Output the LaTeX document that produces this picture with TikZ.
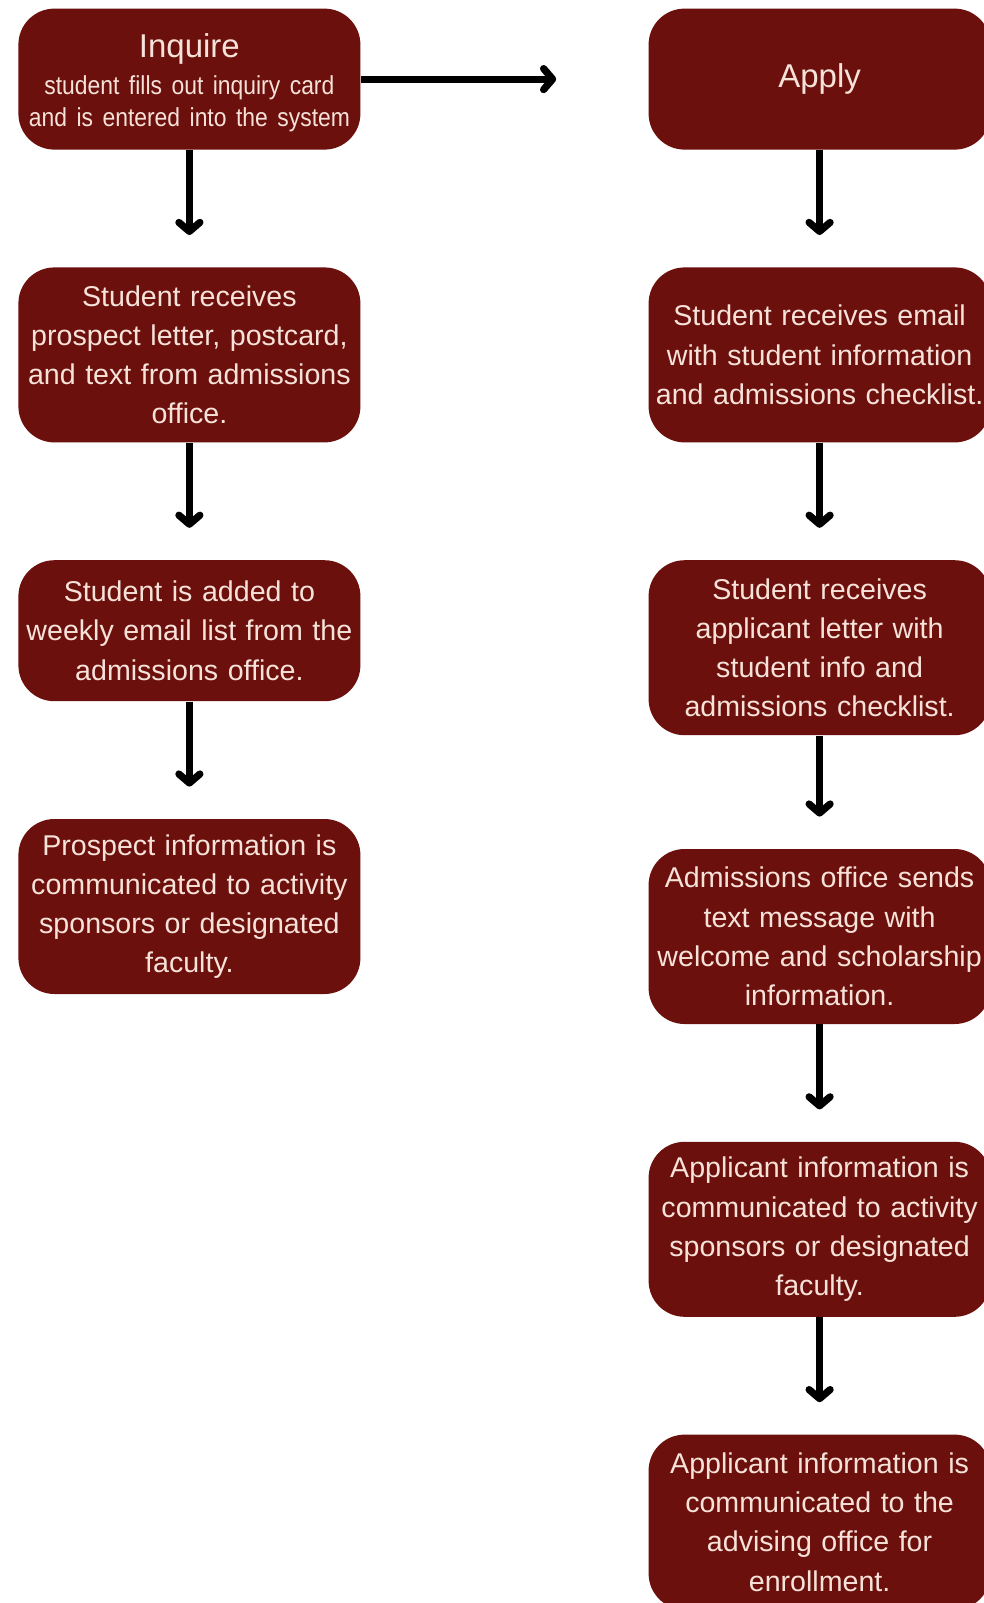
\documentclass[tikz,border=0pt]{standalone}
\usepackage{fontspec}
\setmainfont{Liberation Sans}
\newfontfamily\narrowfont[FakeStretch=0.88]{Liberation Sans}
\usetikzlibrary{arrows.meta,positioning}
\definecolor{admred}{HTML}{6B100C}
\definecolor{admpink}{HTML}{F7E2DA}
\tikzset{
  block/.style      = {fill=admred, rounded corners=18pt, text=admpink, minimum width=171pt,
                       text width=167pt, minimum height=70.5pt, inner sep=2pt, align=center,
                       font=\fontsize{14.3}{19.6}\selectfont},
  tall/.style       = {minimum height=87.5pt},
  sig/.style        = {-{Straight Barb[length=4.5pt,width=10.5pt,round]}, line width=3.6pt,
                       shorten >=16pt},
  node distance     = 58.5pt and 0pt,
}

\begin{document}
\begin{tikzpicture}
  \useasboundingbox[fill=white] (0,0) rectangle (492pt,-801.5pt);
  % inquiry column
  \node[block, anchor=north] (inquire) at (94.7pt,-4.1pt)
    {{\fontsize{16.5}{19.4}\selectfont Inquire}\\[2.8pt]
     {\narrowfont\fontsize{13}{15.8}\selectfont student fills out inquiry card\\and is entered into the system\par}
     \vspace{-3.6pt}};
  \node[block, tall, below=of inquire] (letter) {Student receives\\prospect letter, postcard,\\and text from admissions\\office.};
  \node[block, below=of letter] (weekly) {Student is added to\\weekly email list from the\\admissions office.};
  \node[block, tall, below=of weekly] (prospect) {Prospect information is\\communicated to activity\\sponsors or designated\\faculty.};
  \draw[sig] (inquire) -- (letter);
  \draw[sig] (letter) -- (weekly);
  \draw[sig] (weekly) -- (prospect);
  % application column
  \node[block, anchor=north] (apply) at (409.8pt,-4.1pt) {\fontsize{16.5}{19.4}\selectfont Apply};
  \node[block, tall, below=of apply] (email) {Student receives email\\with student information\\and admissions checklist.};
  \node[block, tall, below=of email] (applet) {Student receives\\applicant letter with\\student info and\\admissions checklist.};
  \node[block, tall, below=56.5pt of applet] (text) {Admissions office sends\\text message with\\welcome and scholarship\\information.};
  \node[block, tall, below=of text] (sponsor) {Applicant information is\\communicated to activity\\sponsors or designated\\faculty.};
  \node[block, tall, below=of sponsor] (advising) {Applicant information is\\communicated to the\\advising office for\\enrollment.};
  \draw[sig] (apply) -- (email);
  \draw[sig] (email) -- (applet);
  \draw[sig] (applet) -- (text);
  \draw[sig] (text) -- (sponsor);
  \draw[sig] (sponsor) -- (advising);
  % inquiry leads to application
  \draw[sig, shorten >=46pt] (inquire.east) -- (apply.west);
\end{tikzpicture}
\end{document}
